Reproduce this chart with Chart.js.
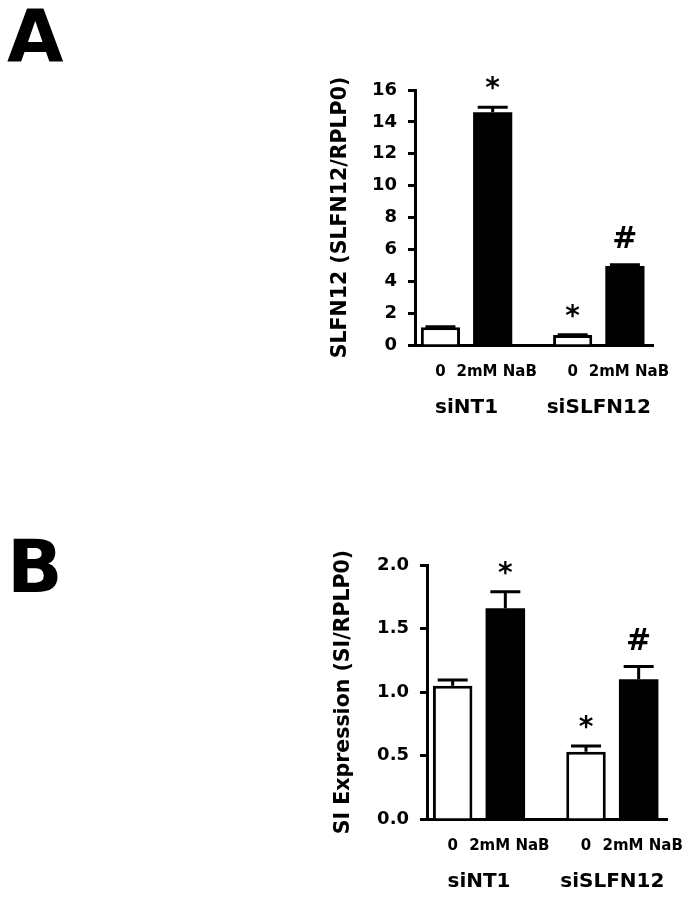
<!DOCTYPE html>
<html><head><meta charset="utf-8">
<script src="https://cdn.jsdelivr.net/npm/chart.js@4.4.0/dist/chart.umd.min.js"></script>
<style>
html,body{margin:0;padding:0;background:#fff;width:691px;height:900px;overflow:hidden;}
.panel{position:absolute;font-family:"DejaVu Sans",sans-serif;font-weight:bold;font-size:73px;line-height:73px;color:#000;}
.wrap{position:absolute;left:300px;width:391px;height:450px;}
</style></head><body>
<div class="panel" style="left:7px;top:0px">A</div>
<div class="panel" style="left:7px;top:530px">B</div>
<div class="wrap" style="top:0"><canvas id="cA" width="391" height="450"></canvas></div>
<div class="wrap" style="top:450px"><canvas id="cB" width="391" height="450"></canvas></div>
<script>
// ---- data ----
const groups = ['siNT1', 'siSLFN12'];
const treatments = ['0', '2mM NaB'];

const slfn12Control = [1.12, 0.62];
const slfn12NaB = [14.6, 4.95];
const slfn12ControlErr = [0.03, 0.03];
const slfn12NaBErr = [0.32, 0.08];
const slfn12ControlMarks = ['', '*'];
const slfn12NaBMarks = ['*', '#'];
const slfn12Ticks = [0, 2, 4, 6, 8, 10, 12, 14, 16];

const siControl = [1.05, 0.53];
const siNaB = [1.66, 1.10];
const siControlErr = [0.045, 0.045];
const siNaBErr = [0.13, 0.10];
const siControlMarks = ['', '*'];
const siNaBMarks = ['*', '#'];
const siTicks = [0, 0.5, 1.0, 1.5, 2.0];

// ---- chart ----
const FONT = "'DejaVu Sans', sans-serif";
Chart.defaults.font.family = FONT;
Chart.defaults.color = '#000';

const errorPlugin = {
  id: 'errAndLabels',
  afterDatasetsDraw(chart) {
    const ctx = chart.ctx;
    const ys = chart.scales.y;
    const area = chart.chartArea;
    ctx.save();
    chart.data.datasets.forEach((ds, di) => {
      const meta = chart.getDatasetMeta(di);
      meta.data.forEach((el, i) => {
        const v = ds.data[i].y;
        const e = ds.errs[i];
        const y0 = ys.getPixelForValue(v);
        const y1 = ys.getPixelForValue(v + e);
        ctx.strokeStyle = '#000';
        ctx.lineWidth = 3;
        ctx.lineCap = 'butt';
        ctx.beginPath();
        ctx.moveTo(el.x, y0);
        ctx.lineTo(el.x, y1);
        ctx.moveTo(el.x - 15, y1);
        ctx.lineTo(el.x + 15, y1);
        ctx.stroke();
        const m = ds.marks[i];
        if (m) {
          ctx.fillStyle = '#000';
          ctx.font = 'bold ' + (m === '#' ? 30 : 28) + 'px ' + FONT;
          ctx.textAlign = 'center';
          ctx.textBaseline = 'alphabetic';
          const mt = ctx.measureText(m);
          const gap = m === '#' ? 28 : 24;
          const yc = y1 - gap;
          const base = yc + (mt.actualBoundingBoxAscent - mt.actualBoundingBoxDescent) / 2;
          ctx.fillText(m, el.x, base);
        }
        // treatment label under each bar
        ctx.fillStyle = '#000';
        ctx.font = 'bold 15px ' + FONT;
        ctx.textAlign = 'center';
        ctx.textBaseline = 'middle';
        ctx.fillText(treatments[di], el.x + (di === 1 ? 4 : 0), area.bottom + 27);
      });
    });
    ctx.restore();
  }
};

function makeChart(id, ctrl, nab, ctrlErr, nabErr, ctrlMarks, nabMarks, ticks, decimals, title, cfg) {
  const mk = (vals, errs, marks, fill, bw, label) => ({
    label: label,
    data: vals.map((v, i) => ({ x: i, y: v })),
    errs: errs,
    marks: marks,
    backgroundColor: fill,
    borderColor: '#000',
    borderWidth: bw,
    borderSkipped: 'bottom',
    categoryPercentage: 0.79,
    barPercentage: 0.75
  });
  return new Chart(document.getElementById(id), {
    type: 'bar',
    data: {
      datasets: [
        mk(ctrl, ctrlErr, ctrlMarks, '#ffffff', 3, treatments[0]),
        mk(nab, nabErr, nabMarks, '#000000', 0, treatments[1])
      ]
    },
    plugins: [errorPlugin],
    options: {
      responsive: false,
      animation: false,
      layout: { padding: { top: cfg.padTop, right: cfg.padRight, left: 0, bottom: 0 } },
      plugins: { legend: { display: false }, tooltip: { enabled: false } },
      scales: {
        x: {
          type: 'linear',
          bounds: 'data',
          offset: false,
          min: -0.39,
          max: 1.41,
          afterBuildTicks: s => { s.ticks = groups.map((g, i) => ({ value: i })); },
          afterFit: s => { s.height = cfg.xHeight; s.paddingLeft = 0; s.paddingRight = 0; },
          ticks: {
            callback: (v, i) => groups[i],
            font: { size: 20, weight: 'bold' },
            color: '#000',
            padding: 51,
            maxRotation: 0,
            autoSkip: false
          },
          grid: { display: false, drawTicks: false, tickLength: 0, offset: false },
          border: { display: true, color: '#000', width: 3 }
        },
        y: {
          min: 0,
          max: ticks[ticks.length - 1],
          afterBuildTicks: s => { s.ticks = ticks.map(v => ({ value: v })); },
          afterFit: s => { s.width = cfg.yWidth; },
          ticks: {
            callback: v => Number(v).toFixed(decimals),
            font: { size: 18, weight: 'bold' },
            color: '#000',
            padding: 11
          },
          grid: { display: true, drawOnChartArea: false, drawTicks: true, tickLength: 7, tickWidth: 3, tickColor: '#000', color: '#000' },
          border: { display: true, color: '#000', width: 3 },
          title: {
            display: true,
            text: title,
            font: { size: 20.5, weight: 'bold' },
            color: '#000',
            padding: { top: cfg.titlePad, bottom: 0 }
          }
        }
      }
    }
  });
}

makeChart('cA', slfn12Control, slfn12NaB, slfn12ControlErr, slfn12NaBErr, slfn12ControlMarks, slfn12NaBMarks,
  slfn12Ticks, 0, 'SLFN12 (SLFN12/RPLP0)',
  { padTop: 90, padRight: 38, xHeight: 105, yWidth: 115, titlePad: 28 });

makeChart('cB', siControl, siNaB, siControlErr, siNaBErr, siControlMarks, siNaBMarks,
  siTicks, 1, 'SI Expression (SI/RPLP0)',
  { padTop: 115, padRight: 24, xHeight: 81, yWidth: 127, titlePad: 31 });
</script>
</body></html>
